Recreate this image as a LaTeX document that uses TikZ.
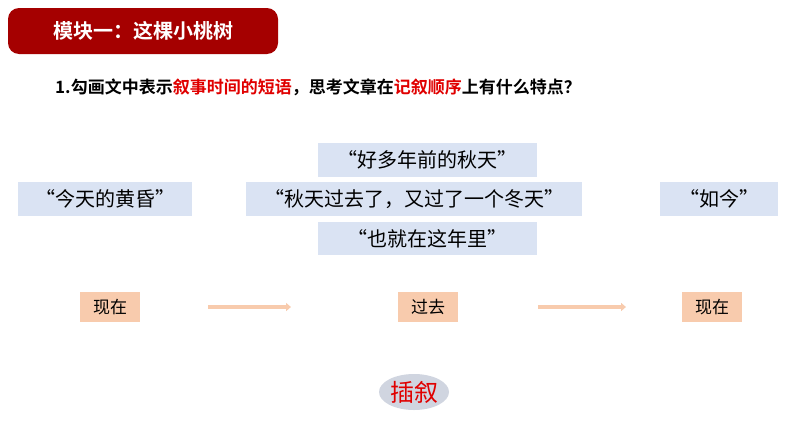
\documentclass[tikz,border=0pt]{standalone}
\usetikzlibrary{arrows.meta,shapes.geometric}
\usepackage{fontspec}
\setmainfont{Noto Sans CJK SC}
\newfontfamily\cjkb{Noto Sans CJK SC Bold}
\definecolor{dred}{HTML}{A50000}
\definecolor{bbox}{HTML}{DAE3F3}
\definecolor{pbox}{HTML}{F8CBAD}
\definecolor{ell}{HTML}{D0D5E0}
\definecolor{rtxt}{HTML}{E00000}
\begin{document}
\begin{tikzpicture}[x=1pt,y=-1pt,
 bluebox/.style={fill=bbox,inner sep=0pt,font=\fontsize{20}{22}\selectfont},
 peach/.style={fill=pbox,minimum width=60pt,minimum height=30pt,inner sep=0pt,font=\fontsize{17}{19}\selectfont},
 arr/.style={pbox,line width=3.5pt,-{Triangle[length=5pt,width=8pt]}}]
\useasboundingbox[fill=white] (0,0) rectangle (794,447);
\node[fill=dred,rounded corners=11pt,minimum width=270pt,minimum height=46pt,text=white,font=\cjkb\fontsize{20}{22}\selectfont] (title) at (143,31) {模块一：这棵小桃树};
\node[anchor=west,inner sep=0pt,font=\cjkb\fontsize{17}{19}\selectfont] (q) at (55,87) {1.勾画文中表示\textcolor{rtxt}{叙事时间的短语}，思考文章在\textcolor{rtxt}{记叙顺序}上有什么特点？};
\node[bluebox,minimum width=219pt,minimum height=34pt] (b1) at (427.5,160) {“好多年前的秋天”};
\node[bluebox,minimum width=174pt,minimum height=34pt] (b2) at (105,199) {“今天的黄昏”};
\node[bluebox,minimum width=336pt,minimum height=34pt] (b3) at (414,199) {“秋天过去了，又过了一个冬天”};
\node[bluebox,minimum width=118pt,minimum height=34pt] (b4) at (719,199) {“如今”};
\node[bluebox,minimum width=219pt,minimum height=33pt] (b5) at (427.5,238.5) {“也就在这年里”};
\node[peach] (p1) at (110,307) {现在};
\node[peach] (p2) at (428,307) {过去};
\node[peach] (p3) at (712,307) {现在};
\coordinate (a1s) at (208,307); \coordinate (a1e) at (291,307);
\coordinate (a2s) at (538,307); \coordinate (a2e) at (626,307);
\draw[arr] (a1s) -- (a1e);
\draw[arr] (a2s) -- (a2e);
\node[ellipse,fill=ell,minimum width=70pt,minimum height=36pt,inner sep=0pt,text=rtxt,font=\fontsize{24}{26}\selectfont] (e) at (414,392) {插叙};
\end{tikzpicture}
\end{document}
